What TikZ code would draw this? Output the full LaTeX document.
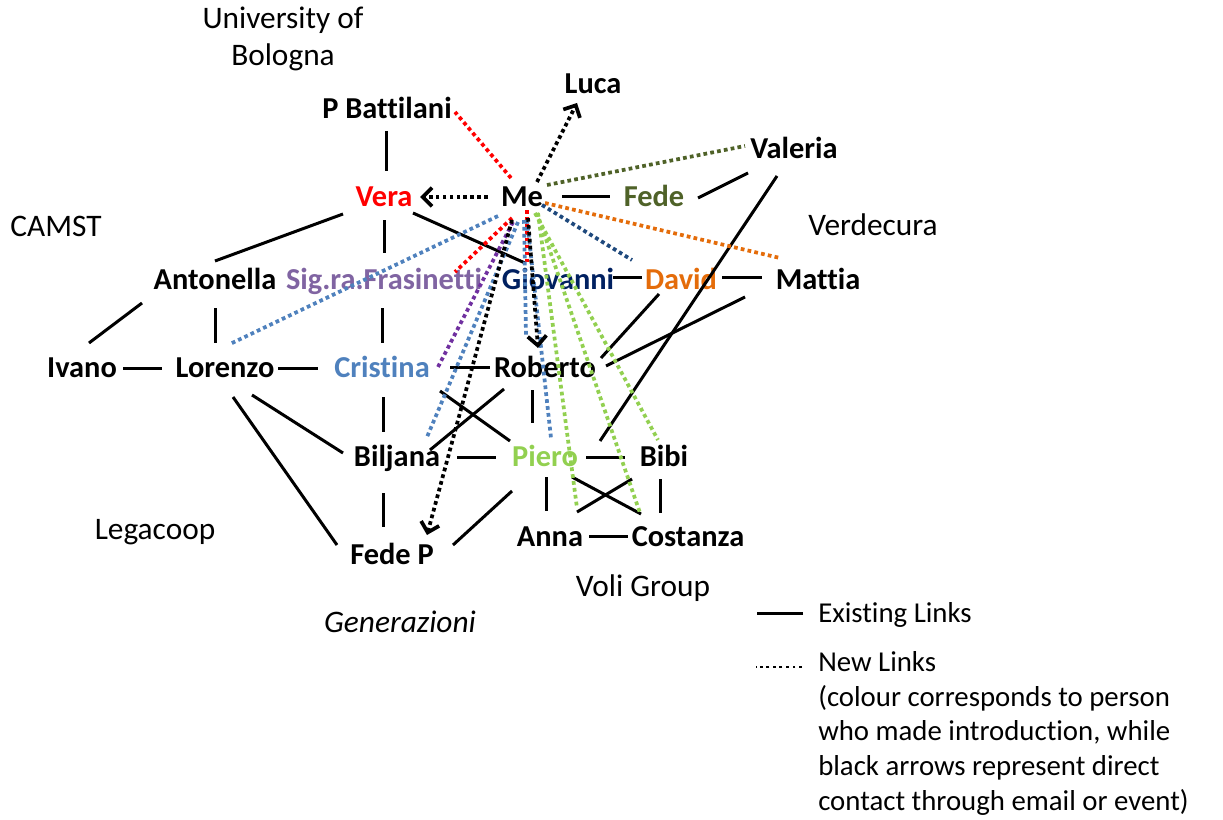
\documentclass[tikz,border=0pt]{standalone}
\usepackage{fontspec}
\setmainfont{Carlito}[Ligatures=CommonOff]
\usetikzlibrary{arrows.meta}
\definecolor{cRed}{HTML}{FF0000}
\definecolor{cOlive}{HTML}{4F6228}
\definecolor{cOrange}{HTML}{E46C0A}
\definecolor{cNavy}{HTML}{002060}
\definecolor{cNavyDot}{HTML}{1F497D}
\definecolor{cPurple}{HTML}{8064A2}
\definecolor{cPurpleDot}{HTML}{7030A0}
\definecolor{cBlue}{HTML}{4F81BD}
\definecolor{cGreen}{HTML}{92D050}
% point at an offset (in px) from a node's centre
\newcommand\anc[3]{([shift={(#2,#3)}]#1.center)}
\begin{document}
\begin{tikzpicture}[x=0.75pt,y=-0.75pt,
  every node/.style={inner sep=0pt, text height=14.5pt, text depth=0pt},
  person/.style={font=\fontsize{22.8}{27}\selectfont\bfseries},
  group/.style={font=\fontsize{23.5}{27.75}\selectfont},
  link/.style={line width=2.25pt, black},
  intro/.style={line width=2.8pt, dash pattern=on 2.8pt off 2.4pt},
  direct/.style={intro, black, -{Straight Barb[length=7pt,width=14pt]}},
  keytext/.style={font=\fontsize{21.6}{25.9}\selectfont, align=left, text height=, text depth=},
]
\useasboundingbox (0,0) rectangle (1223,820);

% ---------- people ----------
\node[person] (batt) at (387,109) {P Battilani};
\node[person] (luca) at (593,84) {Luca};
\node[person] (valeria) at (794,149) {Valeria};
\node[person, cRed] (vera) at (384,197) {Vera};
\node[person] (me) at (522,197) {Me};
\node[person, cOlive] (fede) at (654,197) {Fede};
\node[person] (antonella) at (215,280) {Antonella};
\node[person, cPurple] (fras) at (384,280) {Sig.ra.Frasinetti};
\node[person, cNavy] (giovanni) at (558,280) {Giovanni};
\node[person, cOrange] (david) at (681,280) {David};
\node[person] (mattia) at (818,280) {Mattia};
\node[person] (ivano) at (82,368) {Ivano};
\node[person] (lorenzo) at (225,368) {Lorenzo};
\node[person, cBlue] (cristina) at (382,368) {Cristina};
\node[person] (roberto) at (545,368) {Roberto};
\node[person] (biljana) at (397,457) {Biljana};
\node[person, cGreen] (piero) at (545,457) {Piero};
\node[person] (bibi) at (664,457) {Bibi};
\node[person] (fedep) at (392,555) {Fede P};
\node[person] (anna) at (550,537) {Anna};
\node[person] (costanza) at (688,537) {Costanza};

% ---------- organisations ----------
\node[group, align=center, text height=, text depth=, anchor=base] (unibo) at (283,66) {University of\\Bologna};
\node[group] (camst) at (56,227) {CAMST};
\node[group] (verdecura) at (873,226) {Verdecura};
\node[group] (legacoop) at (155,530) {Legacoop};
\node[group] (voli) at (643,587) {Voli Group};
\node[group, font=\fontsize{23.5}{27.75}\selectfont\itshape] (gen) at (400,623) {Generazioni};

% ---------- existing links ----------
\draw[link] \anc{batt}{-1}{22} -- \anc{vera}{2}{-26};
\draw[link] \anc{me}{40}{-1} -- \anc{fede}{-44}{-1};
\draw[link] \anc{fede}{44}{1} -- \anc{valeria}{-46}{24};
\draw[link] \anc{valeria}{-17}{27} -- \anc{piero}{55}{-16};
\draw[link] \anc{vera}{29}{16} -- \anc{giovanni}{-33}{-17};
\draw[link] \anc{vera}{-41}{17} -- \anc{antonella}{0}{-19};
\draw[link] \anc{vera}{0}{23} -- \anc{fras}{0}{-27};
\draw[link] \anc{antonella}{-73}{23} -- \anc{ivano}{7}{-25};
\draw[link] \anc{antonella}{0}{28} -- \anc{lorenzo}{-10}{-25};
\draw[link] \anc{fras}{-2}{28} -- \anc{cristina}{0}{-25};
\draw[link] \anc{ivano}{41}{0} -- \anc{lorenzo}{-63}{0};
\draw[link] \anc{lorenzo}{53}{0} -- \anc{cristina}{-64}{0};
\draw[link] \anc{cristina}{68}{-1} -- \anc{roberto}{-55}{-1};
\draw[link] \anc{giovanni}{55}{-3} -- \anc{david}{-39}{-3};
\draw[link] \anc{david}{41}{-3} -- \anc{mattia}{-56}{-3};
\draw[link] \anc{david}{-22}{14} -- \anc{roberto}{56}{-10};
\draw[link] \anc{mattia}{-73}{17} -- \anc{roberto}{61}{-2};
\draw[link] \anc{lorenzo}{27}{27} -- \anc{biljana}{-54}{-4};
\draw[link] \anc{lorenzo}{8}{29} -- \anc{fedep}{-55}{-10};
\draw[link] \anc{cristina}{1}{29} -- \anc{biljana}{-14}{-25};
\draw[link] \anc{biljana}{-14}{36} -- \anc{fedep}{-9}{-28};
\draw[link] \anc{biljana}{33}{-7} -- \anc{roberto}{-41}{21};
\draw[link] \anc{cristina}{58}{23} -- \anc{piero}{-35}{-16};
\draw[link] \anc{roberto}{-13}{22} -- \anc{piero}{-13}{-34};
\draw[link] \anc{biljana}{60}{0} -- \anc{piero}{-49}{0};
\draw[link] \anc{piero}{41}{0} -- \anc{bibi}{-39}{0};
\draw[link] \anc{piero}{1}{20} -- \anc{anna}{-4}{-26};
\draw[link] \anc{bibi}{-4}{22} -- \anc{costanza}{-28}{-24};
\draw[link] \anc{piero}{27}{20} -- \anc{costanza}{-47}{-23};
\draw[link] \anc{bibi}{-32}{22} -- \anc{anna}{27}{-25};
\draw[link] \anc{anna}{39}{-1} -- \anc{costanza}{-60}{-1};
\draw[link] \anc{fedep}{61}{-10} -- \anc{piero}{-33}{34};

% ---------- new links (colour = who made the introduction) ----------
\draw[intro, cRed] \anc{me}{-11}{-19} -- \anc{batt}{68}{3};
\draw[intro, cOlive] \anc{me}{25}{-12} -- \anc{valeria}{-49}{-3};
\draw[intro, cOrange] \anc{me}{23}{6} -- \anc{mattia}{-38}{-22};
\draw[intro, cNavyDot] \anc{me}{20}{8} -- \anc{david}{-49}{-20};
\draw[intro, cRed] \anc{me}{-10}{21} -- \anc{fras}{71}{-8};
\draw[intro, cRed] \anc{me}{5}{13} -- \anc{giovanni}{-31}{-17};
\draw[intro, cPurpleDot] \anc{me}{-9}{25} -- \anc{cristina}{56}{-1};
\draw[intro, cBlue] \anc{me}{-24}{19} -- \anc{lorenzo}{5}{-24};
\draw[intro, cBlue] \anc{me}{-4}{25} -- \anc{biljana}{30}{-20};
\draw[intro, cBlue] \anc{me}{2}{23} -- \anc{roberto}{-19}{-33};
\draw[intro, cBlue] \anc{me}{5}{23} -- \anc{piero}{6}{-19};
\draw[intro, cGreen] \anc{me}{16}{16} -- \anc{anna}{27}{-29};
\draw[intro, cGreen] \anc{me}{15}{16} -- \anc{costanza}{-48}{-24};
\draw[intro, cGreen] \anc{me}{13}{16} -- \anc{bibi}{-6}{-17};

% ---------- direct contacts ----------
\draw[direct] \anc{me}{15}{-15} -- \anc{luca}{-16}{19};
\draw[direct] \anc{me}{-34}{0} -- \anc{vera}{36}{0};
\draw[direct] \anc{me}{6}{21} -- \anc{roberto}{-7}{-20};
\draw[direct] \anc{me}{-10}{23} -- \anc{fedep}{35}{-20};

% ---------- key ----------
\node[keytext, anchor=base west] (kexist) at (818,622) {Existing Links};
\node[keytext, anchor=base west] (knew) at (818,810) {New Links\\(colour corresponds to person\\who made introduction, while\\black arrows represent direct\\contact through email or event)};
\coordinate (ksolid) at (803,613);
\coordinate (kdots) at (802,667);
\draw[link] (ksolid) -- ++(-46,0);
\draw[line width=2.2pt, dash pattern=on 2.2pt off 2.7pt] (kdots) -- ++(-46,0);
\end{tikzpicture}
\end{document}
